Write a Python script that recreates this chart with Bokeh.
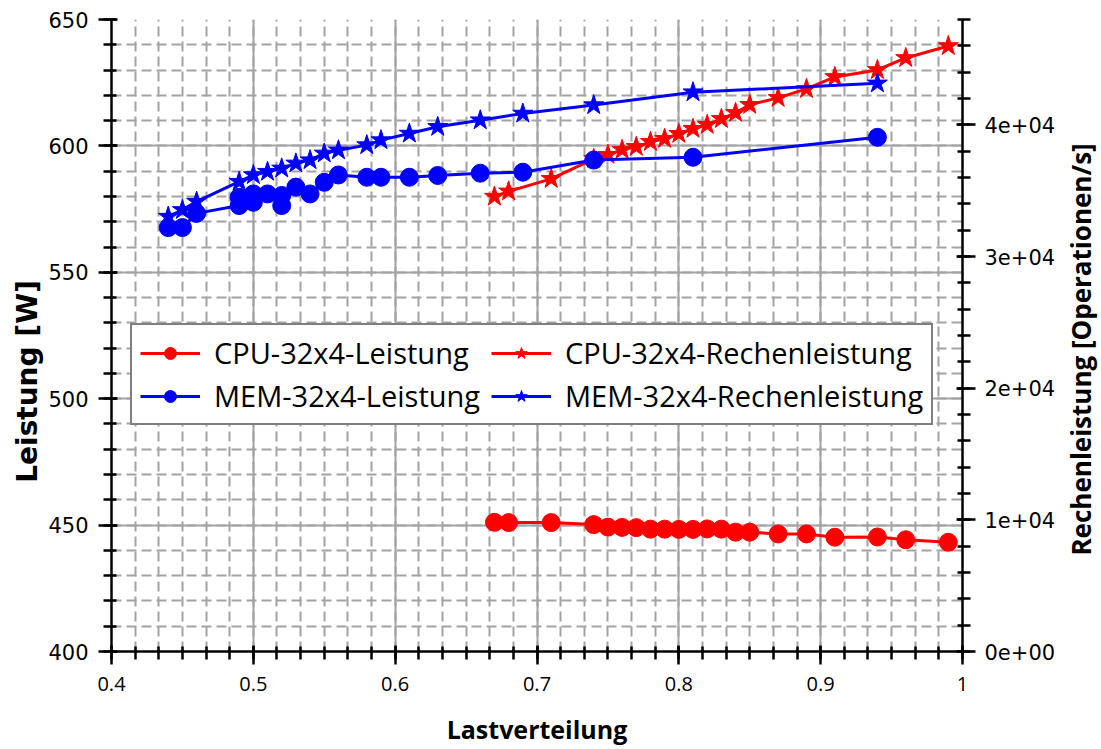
import math
from bokeh.plotting import figure
from bokeh.layouts import row
from bokeh.models import (Range1d, LinearAxis, SingleIntervalTicker, CustomJSTickFormatter,
                          Legend, LegendItem, Label)
from bokeh.embed import file_html
from bokeh.resources import INLINE

# Lastverteilung values per run
cpu_x = [0.67, 0.68, 0.71, 0.74, 0.75, 0.76, 0.77, 0.78, 0.79, 0.80, 0.81,
         0.82, 0.83, 0.84, 0.85, 0.87, 0.89, 0.91, 0.94, 0.96, 0.99]
cpu_leistung = [451.1, 451.0, 451.0, 450.2, 449.2, 449.1, 449.0, 448.4, 448.4, 448.3, 448.3,
                448.5, 448.4, 447.2, 447.2, 446.5, 446.5, 445.2, 445.3, 444.2, 443.2]
cpu_rechen = [34550, 34950, 35900, 37420, 37730, 38100, 38330, 38710, 38940, 39320, 39700,
              40000, 40450, 40910, 41520, 42050, 42730, 43640, 44170, 45080, 45990]

mem_x_l = [0.44, 0.45, 0.46, 0.49, 0.49, 0.50, 0.50, 0.51, 0.52, 0.52, 0.53, 0.54,
           0.55, 0.56, 0.58, 0.59, 0.61, 0.63, 0.66, 0.69, 0.74, 0.81, 0.94]
mem_leistung = [567.7, 567.7, 573.3, 576.4, 579.7, 581.0, 577.7, 581.0, 580.4, 576.4, 583.7, 581.0,
                585.6, 588.5, 587.6, 587.6, 587.6, 588.3, 589.2, 589.6, 594.4, 595.5, 603.4]

mem_x_r = [0.44, 0.45, 0.46, 0.49, 0.50, 0.51, 0.52, 0.53, 0.54, 0.55, 0.56,
           0.58, 0.59, 0.61, 0.63, 0.66, 0.69, 0.74, 0.81, 0.94]
mem_rechen = [33030, 33540, 34170, 35680, 36190, 36440, 36690, 37070, 37320, 37830, 38070,
              38460, 38840, 39340, 39850, 40350, 40860, 41500, 42480, 43150]

RED = "#ff0000"
BLUE = "#0000ff"
GRID = "#a3a3a7"
FONT = "Open Sans"
NUM_FONT = "DejaVu Sans"

W_LEFT, W_MAIN, W_RIGHT, H = 45, 1015, 41, 749

p = figure(width=W_MAIN, height=H, output_backend="svg", toolbar_location=None,
           x_range=Range1d(0.4, 1.0), y_range=Range1d(400, 650),
           min_border_left=109 - W_LEFT, min_border_right=W_LEFT + W_MAIN - 962,
           min_border_top=19, min_border_bottom=98)
p.outline_line_color = None
p.background_fill_color = "white"
p.extra_y_ranges = {"rate": Range1d(0, 48000)}

# axes
p.xaxis.ticker = SingleIntervalTicker(interval=0.1, num_minor_ticks=6)
p.yaxis.ticker = SingleIntervalTicker(interval=50, num_minor_ticks=5)
p.xaxis.formatter = CustomJSTickFormatter(code="return String(Number(tick.toFixed(2)));")

right = LinearAxis(y_range_name="rate",
                   ticker=SingleIntervalTicker(interval=10000, num_minor_ticks=5),
                   formatter=CustomJSTickFormatter(
                       code="return tick.toExponential(0).replace(/e([+-])(\\d)$/, 'e$10$2');"))
p.add_layout(right, "right")
left = p.yaxis[0]

p.xaxis.axis_label = "Lastverteilung"

for ax in [p.xaxis[0], left, right]:
    ax.axis_line_color = "black"
    ax.axis_line_width = 2.5
    ax.major_tick_line_color = "black"
    ax.major_tick_line_width = 2.5
    ax.minor_tick_line_color = "black"
    ax.minor_tick_line_width = 2.5
    ax.major_tick_in = 6
    ax.major_tick_out = 13
    ax.minor_tick_in = 5
    ax.minor_tick_out = 8
    ax.major_label_text_font = NUM_FONT
    ax.major_label_text_font_size = "21px"
    ax.major_label_text_color = "black"
    ax.axis_label_text_font = FONT
    ax.axis_label_text_font_style = "bold"
    ax.axis_label_text_font_size = "25px"
    ax.axis_label_text_color = "black"

p.xaxis.major_label_text_font = FONT
p.xaxis.major_label_text_font_size = "20px"
p.xaxis.major_label_standoff = 12
p.xaxis.axis_label_standoff = 18
left.major_label_standoff = 10
right.major_label_standoff = 9

# grid
for g in [p.xgrid[0], p.ygrid[0]]:
    g.grid_line_color = GRID
    g.grid_line_width = 2
    g.minor_grid_line_color = GRID
    g.minor_grid_line_width = 2
    g.minor_grid_line_dash = "10 5"

# series
l1 = p.line(cpu_x, cpu_leistung, line_color=RED, line_width=3)
m1 = p.scatter(cpu_x, cpu_leistung, marker="circle", size=18, fill_color=RED, line_color=RED)
l2 = p.line(cpu_x, cpu_rechen, line_color=RED, line_width=3, y_range_name="rate")
m2 = p.scatter(cpu_x, cpu_rechen, marker="star", size=21, fill_color=RED, line_color=RED,
               y_range_name="rate")
l3 = p.line(mem_x_l, mem_leistung, line_color=BLUE, line_width=3)
m3 = p.scatter(mem_x_l, mem_leistung, marker="circle", size=18, fill_color=BLUE, line_color=BLUE)
l4 = p.line(mem_x_r, mem_rechen, line_color=BLUE, line_width=3, y_range_name="rate")
m4 = p.scatter(mem_x_r, mem_rechen, marker="star", size=21, fill_color=BLUE, line_color=BLUE,
               y_range_name="rate")

legend = Legend(items=[
    LegendItem(label="CPU-32x4-Leistung", renderers=[l1, m1]),
    LegendItem(label="CPU-32x4-Rechenleistung", renderers=[l2, m2]),
    LegendItem(label="MEM-32x4-Leistung", renderers=[l3, m3]),
    LegendItem(label="MEM-32x4-Rechenleistung", renderers=[l4, m4]),
], location=(19, 226), orientation="horizontal", nrows=2)
legend.margin = 0
legend.padding = 8
legend.spacing = 4
legend.glyph_width = 60
legend.glyph_height = 30
legend.label_standoff = 14
legend.label_width = 273
legend.label_text_font = FONT
legend.label_text_font_size = "29px"
legend.label_text_color = "black"
legend.border_line_color = "black"
legend.border_line_width = 2.5
legend.background_fill_color = "white"
legend.background_fill_alpha = 1.0
p.add_layout(legend, "center")


def title_strip(width, text, x_center, y_center, font, size):
    """Narrow axis-free figure carrying one vertical axis title (read bottom-to-top)."""
    s = figure(width=width, height=H, output_backend="svg", toolbar_location=None,
               x_range=Range1d(0, width), y_range=Range1d(0, H),
               x_axis_location=None, y_axis_location=None,
               min_border_left=0, min_border_right=0, min_border_top=0, min_border_bottom=0)
    s.grid.visible = False
    s.outline_line_color = None
    s.add_layout(Label(x=x_center, y=H - y_center, text=text, angle=math.pi / 2,
                       text_align="center", text_baseline="middle",
                       text_font=font, text_font_style="bold", text_font_size=size,
                       text_color="black"))
    return s


left_strip = title_strip(W_LEFT, "Leistung [W]", 27, 429, NUM_FONT, "28px")
right_strip = title_strip(W_RIGHT, "Rechenleistung [Operationen/s]", 20, 391, FONT, "26px")

layout = row(left_strip, p, right_strip, spacing=0)
open("out.html", "w").write(file_html(layout, INLINE))
